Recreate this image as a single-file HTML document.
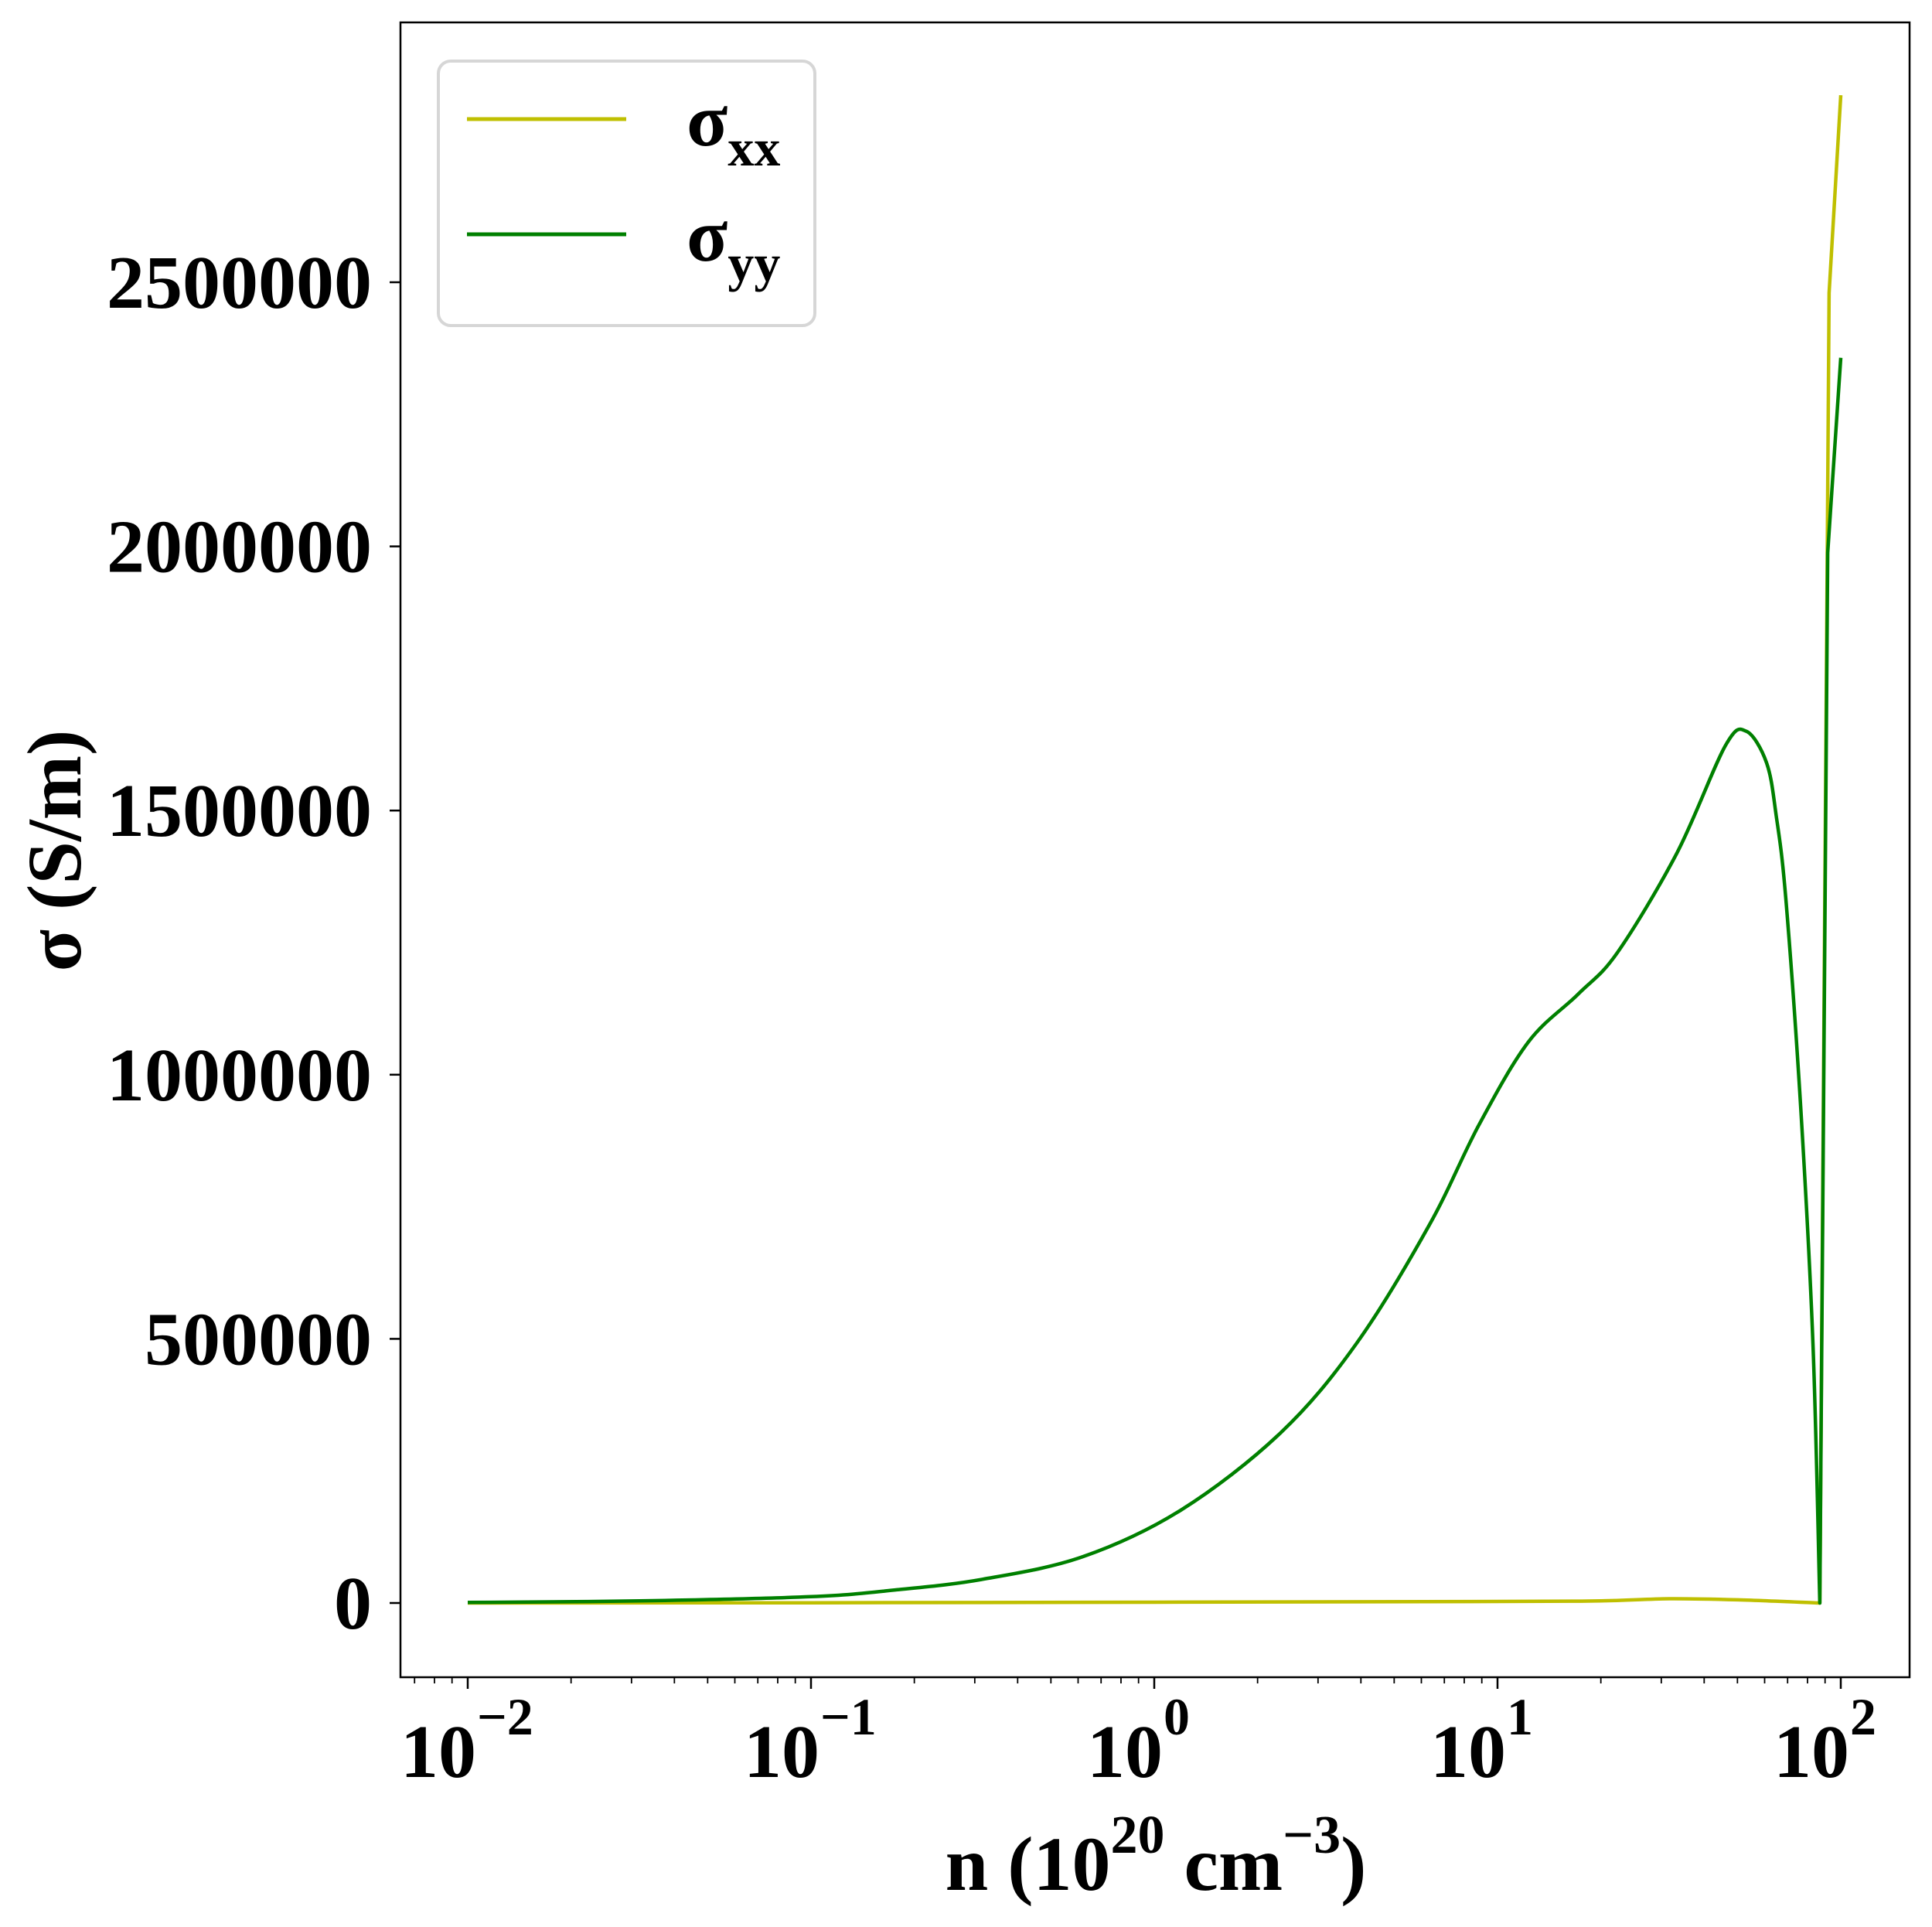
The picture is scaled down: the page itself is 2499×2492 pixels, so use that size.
<!DOCTYPE html>
<html><head><meta charset="utf-8"><style>
html,body{margin:0;padding:0;background:#fff;}
svg{display:block;font-family:"Liberation Serif",serif;font-weight:bold;}
</style></head><body>
<svg id="chart" width="2499" height="2492" viewBox="0 0 2499 2492" xmlns="http://www.w3.org/2000/svg">
<rect x="0" y="0" width="2499" height="2492" fill="#fff"/>
<g id="plot"></g>
<rect x="518" y="29" width="1952" height="2140" fill="none" stroke="#000" stroke-width="2.5"/>
<g id="yticks"></g>
<g id="xticks"></g>
<text x="1495" y="2444" text-anchor="middle" font-size="100">n (10<tspan dy="-48" font-size="70">20</tspan><tspan dy="48"> cm</tspan><tspan dy="-48" font-size="70">−3</tspan><tspan dy="48">)</tspan></text>
<text transform="translate(104,1100) rotate(-90)" text-anchor="middle" font-size="100">σ (S/m)</text>
<g>
<rect x="567" y="79" width="487" height="342" rx="16" fill="#fff" fill-opacity="0.8" stroke="#d6d6d6" stroke-width="4"/>
<line x1="604" y1="154" x2="810" y2="154" stroke="#bfbf00" stroke-width="5"/>
<text x="888" y="188" font-size="98">σ<tspan dy="26" font-size="68">xx</tspan></text>
<line x1="604" y1="303" x2="810" y2="303" stroke="#008000" stroke-width="5"/>
<text x="888" y="337" font-size="98">σ<tspan dy="26" font-size="68">yy</tspan></text>
</g>
</svg>
<script>
const logN = [-2,-1.5,-1,-0.75,-0.5,-0.209,0.078,0.368,0.589,0.801,0.946,1.09,1.234,1.349,1.523,1.664,1.725,1.784,1.812,1.84,1.883,1.919,1.939,1.962,2];
const sigmaYY = [1000,4000,12000,25000,45000,87400,176000,322000,491000,715000,905000,1062000,1152000,1231000,1420000,1623000,1650000,1590000,1490000,1332000,940000,491000,0,1988000,2357000];
const logNxx = [-2,-1,0,1,1.3,1.5,1.7,1.939,1.966,2];
const sigmaXX = [0,500,1500,3000,4000,8000,6000,0,2480000,2854000];
const yTickVals = [0,500000,1000000,1500000,2000000,2500000];
const yTickLabels = ["0","500000","1000000","1500000","2000000","2500000"];
const xTickExps = [-2,-1,0,1,2];
const xTickLabels = ["−2","−1","0","1","2"];

const L=518,R=2470,T=29,B=2169;
function xs(lg){return 605+(lg+2)*444;}
function ys(v){return 2073-v/500000*341.6;}
const NS="http://www.w3.org/2000/svg";
function mk(tag,attrs,parent){const e=document.createElementNS(NS,tag);for(const k in attrs)e.setAttribute(k,attrs[k]);parent.appendChild(e);return e;}
const plot=document.getElementById('plot');
function smoothPath(pts){
  let d='M'+pts[0][0].toFixed(1)+' '+pts[0][1].toFixed(1);
  for(let i=0;i<pts.length-1;i++){
    const p0=pts[Math.max(i-1,0)],p1=pts[i],p2=pts[i+1],p3=pts[Math.min(i+2,pts.length-1)];
    const c1=[p1[0]+(p2[0]-p0[0])/6,p1[1]+(p2[1]-p0[1])/6];
    const c2=[p2[0]-(p3[0]-p1[0])/6,p2[1]-(p3[1]-p1[1])/6];
    d+=' C'+c1[0].toFixed(1)+' '+c1[1].toFixed(1)+' '+c2[0].toFixed(1)+' '+c2[1].toFixed(1)+' '+p2[0].toFixed(1)+' '+p2[1].toFixed(1);
  }
  return d;
}
function drawLine(xv,yv,color,name){
  const pts=xv.map((x,i)=>[xs(x),ys(yv[i])]);
  let dip=0;for(let i=1;i<yv.length-1;i++){if(yv[i]<=yv[i-1]&&yv[i]<yv[i+1]&&xv[i]>1.5)dip=i;}
  const a=pts.slice(0,dip+1), b=pts.slice(dip);
  const d=smoothPath(a)+' L'+b.slice(1).map(p=>p[0].toFixed(1)+' '+p[1].toFixed(1)).join(' L');
  const p=mk('path',{d:d,fill:'none',stroke:color,'stroke-width':4.5,'stroke-linejoin':'round'},plot);
  
  
}
drawLine(logNxx,sigmaXX,'#bfbf00','series-sigma-xx');
drawLine(logN,sigmaYY,'#008000','series-sigma-yy');

const yt=document.getElementById('yticks');
yTickVals.forEach((v,i)=>{
  const y=ys(v);
  const t=mk('line',{x1:L-14,y1:y,x2:L,y2:y,stroke:'#000','stroke-width':2.5},yt);
  
  
  const tx=mk('text',{x:481,y:y+33,'text-anchor':'end','font-size':98},yt);
  tx.textContent=yTickLabels[i];
  
  
});
const xt=document.getElementById('xticks');
for(let e=-3;e<=2;e++){
  for(let m=1;m<10;m++){
    const lg=e+Math.log10(m);
    const x=xs(lg);
    if(x<L||x>R)continue;
    const len=m===1?15:8;
    const t=mk('line',{x1:x,y1:B,x2:x,y2:B+len,stroke:'#000','stroke-width':m===1?2.5:1.8},xt);
    
    
  }
}
xTickExps.forEach((e,i)=>{
  const x=xs(e);
  const tx=mk('text',{x:x-38,y:2298,'text-anchor':'middle','font-size':98},xt);
  tx.textContent='10';
  
  
  const sp=mk('text',{x:x+12,y:2243,'text-anchor':'start','font-size':68},xt);
  sp.textContent=xTickLabels[i];
  
  
});
</script>
</body></html>
